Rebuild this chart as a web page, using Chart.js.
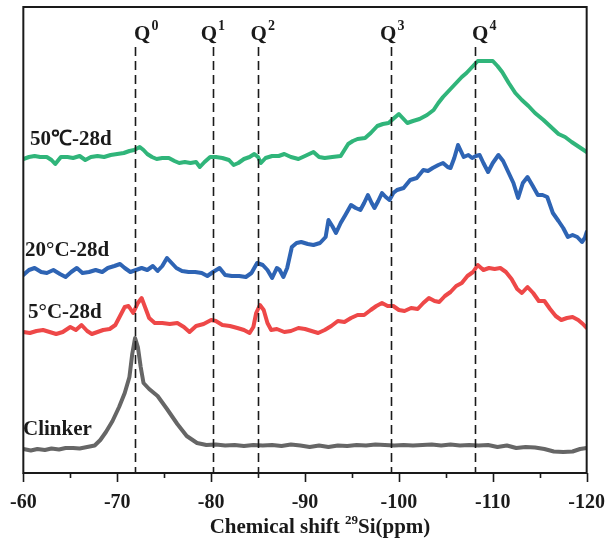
<!DOCTYPE html>
<html>
<head>
<meta charset="utf-8">
<script src="https://cdn.jsdelivr.net/npm/chart.js@4.4.1/dist/chart.umd.min.js"></script>
<style>
  html, body { margin: 0; padding: 0; background: #fff; }
</style>
</head>
<body>
<canvas id="nmr" width="615" height="541"></canvas>
<script>
// 29Si NMR spectra, stacked (values already include the vertical offset of each trace)
const clinkerPpm = [-60,-60.8,-61.5,-62.3,-63,-63.8,-64.5,-65.3,-66,-66.8,-67.6,-68.2,-68.8,-69.5,-70.2,-70.8,-71.3,-71.6,-71.9,-72.2,-72.5,-72.8,-73.4,-74.3,-75.3,-76.4,-77.4,-78.5,-79.5,-80.5,-81.5,-82.5,-83.5,-84.5,-85.5,-86.5,-87.5,-88.5,-89.5,-90.5,-91.5,-92.5,-93.5,-94.5,-95.5,-96.5,-97.5,-98.5,-99.5,-100.5,-101.5,-102.5,-103.5,-104.5,-105.5,-106.5,-107.5,-108.5,-109.5,-110.5,-111.5,-112.5,-113.5,-114.5,-115.5,-116.5,-117.5,-118.5,-119.3,-120];
const clinkerVal = [24,22.5,24,23,24.5,23.5,25,25,24.5,26,27.5,33,41,52,66,80,96,119,135,126,106,90,84,77,64,49,37,30,28,28.5,27.5,28,27,28,27.5,28,27,28.5,27.5,26,27.5,26,27.5,27,28,27.5,28.5,28,27.5,28,27.5,28,28.5,27.5,28.5,27.5,28,27.5,28,26,27.5,25,26,25.5,24,21.5,21,21.5,24,25];

const c5Ppm = [-60,-60.7,-61.4,-62.1,-62.8,-63.5,-64.2,-65,-65.6,-66.2,-66.8,-67.3,-67.9,-68.5,-69.2,-69.8,-70.3,-70.8,-71.2,-71.7,-72.2,-72.6,-73,-73.4,-74,-74.8,-75.6,-76.4,-77.1,-77.7,-78.4,-79.2,-80,-80.5,-81.2,-82,-82.8,-83.5,-84.1,-84.5,-84.8,-85.2,-85.6,-86,-86.4,-87,-87.8,-88.5,-89.3,-90,-90.7,-91.4,-92.1,-92.8,-93.5,-94.2,-94.9,-95.6,-96.3,-97,-97.6,-98.2,-98.8,-99.4,-100,-100.6,-101.3,-102,-102.6,-103.2,-103.8,-104.3,-104.9,-105.5,-106.1,-106.7,-107.3,-107.9,-108.4,-109,-109.6,-110.2,-110.8,-111.4,-112,-112.6,-113.1,-113.7,-114.3,-114.9,-115.5,-116.1,-116.7,-117.3,-117.9,-118.5,-119.1,-119.6,-120];
const c5Val = [141,140,142,143,141,139,141,146,143,148,142,139,141,143,144,148,157,166,167,160,170,175,165,155,150,150,149,150,146,141,147,149,153,152,148,147,145,143,140,146,160,168,163,150,143,144,141,142,145,144,142,140,143,147,152,151,155,158,158,163,167,170,167,167,163,162,165,164,170,175,172,171,177,181,187,190,197,201,208,203,205,204,205,201,194,184,180,186,180,172,172,164,157,153,155,156,153,149,145];

const c20Ppm = [-60,-60.6,-61.2,-61.9,-62.5,-63.2,-63.9,-64.5,-65.1,-65.7,-66.3,-67,-67.7,-68.4,-69,-69.7,-70.3,-70.8,-71.4,-72,-72.6,-73.2,-73.8,-74.3,-74.8,-75.3,-75.8,-76.3,-76.9,-77.6,-78.3,-79,-79.6,-80.2,-80.9,-81.5,-82.2,-83,-83.7,-84.3,-84.9,-85.5,-86,-86.5,-87,-87.3,-87.7,-88.1,-88.6,-89.1,-89.6,-90.3,-90.9,-91.6,-92.2,-92.5,-92.9,-93.3,-93.8,-94.3,-94.9,-95.4,-95.9,-96.3,-96.7,-97.1,-97.4,-97.8,-98.2,-98.6,-99,-99.4,-99.8,-100.5,-101.2,-101.9,-102.6,-103.1,-103.6,-104.2,-104.7,-105.2,-105.5,-105.9,-106.3,-106.6,-106.9,-107.4,-107.8,-108.2,-108.6,-109,-109.5,-110,-110.6,-111.1,-111.7,-112.2,-112.7,-113.2,-113.7,-114.2,-114.8,-115.3,-115.8,-116.4,-117,-117.5,-118,-118.5,-119,-119.5,-119.8,-120];
const c20Val = [198,203,205,201,200,203,199,196,201,205,200,201,203,201,205,207,209,205,201,203,205,203,207,202,207,215,210,205,202,201,201,200,197,201,205,198,197,197,196,200,210,208,203,195,205,203,196,205,226,230,231,229,228,230,236,253,247,240,250,258,268,265,263,270,278,270,265,272,280,276,273,280,283,285,293,295,303,302,305,308,310,306,305,315,328,322,316,318,315,317,318,310,301,310,318,312,300,290,275,290,296,288,278,278,276,260,252,245,236,238,236,231,235,241];

const c50Ppm = [-60,-60.6,-61.2,-61.8,-62.5,-63,-63.4,-64,-64.7,-65.3,-66,-66.6,-67.2,-67.9,-68.6,-69.3,-70,-70.7,-71.3,-71.8,-72.4,-72.8,-73.2,-73.7,-74.2,-74.8,-75.5,-76.1,-76.6,-77.2,-77.8,-78.4,-78.8,-79.3,-79.9,-80.5,-81.2,-81.9,-82.4,-82.9,-83.5,-84.1,-84.6,-85,-85.3,-85.8,-86.5,-87.2,-87.8,-88.5,-89.3,-90,-90.9,-91.5,-92.1,-92.9,-93.8,-94.2,-94.6,-95.1,-95.6,-96.4,-97,-97.7,-98.3,-98.9,-99.5,-100,-100.5,-100.9,-101.5,-102.2,-103,-103.7,-104.2,-104.7,-105.4,-106.1,-106.7,-107.2,-107.8,-108.4,-109.2,-110,-110.5,-111,-111.7,-112.4,-113.1,-113.8,-114.5,-115.4,-116.2,-117,-117.7,-118.4,-119.2,-120];
const c50Val = [314,316,317,316,316,313,309,316,316,315,317,313,316,317,316,318,319,320,322,323,326,323,319,316,314,315,315,312,310,311,310,311,306,311,316,316,315,313,308,310,314,316,319,316,310,315,317,317,319,316,314,317,321,316,315,316,317,323,329,332,334,335,340,347,349,350,355,359,354,350,352,354,358,363,370,376,383,390,396,400,406,412,412,412,407,401,390,380,373,367,360,353,346,339,336,331,326,321];

const seriesNames = ['Clinker', '5°C-28d', '20°C-28d', '50℃-28d'];
const seriesColors = ['#666666', '#ee4848', '#2e64b4', '#30b57a'];

// Q^n reference positions
const qNames = ['0', '1', '2', '3', '4'];
const qShift = [-71.9, -80.2, -85.0, -99.2, -108.1];
const qLabelAt = [-71.8, -78.9, -84.2, -98.0, -107.8];

const xTicks = [-60, -70, -80, -90, -100, -110, -120];

const serif = '"Liberation Serif", "Times New Roman", serif';
const ink = '#1a1a1a';

function pts(xs, ys) {
    return xs.map((v, i) => ({ x: v, y: ys[i] }));
}

const overlay = {
    id: 'overlay',
    afterDatasetsDraw(chart) {
        const { ctx, chartArea: a, scales: { x } } = chart;
        ctx.save();

        // dashed Q lines
        ctx.strokeStyle = ink;
        ctx.lineWidth = 1.6;
        ctx.setLineDash([9, 5]);
        qShift.forEach(v => {
            const px = Math.round(x.getPixelForValue(v)) + 0.5;
            ctx.beginPath();
            ctx.moveTo(px, 47);
            ctx.lineTo(px, a.bottom);
            ctx.stroke();
        });
        ctx.setLineDash([]);

        // Q labels with superscripts
        ctx.fillStyle = ink;
        ctx.textBaseline = 'alphabetic';
        ctx.textAlign = 'left';
        qLabelAt.forEach((v, i) => {
            const px = x.getPixelForValue(v);
            ctx.font = 'bold 21px ' + serif;
            ctx.fillText('Q', px, 40);
            const w = ctx.measureText('Q').width;
            ctx.font = 'bold 14px ' + serif;
            ctx.fillText(qNames[i], px + w + 1, 30);
        });

        // series labels
        ctx.font = 'bold 21px ' + serif;
        const labelPos = [[23, 435], [28, 318], [25, 256], [30, 145]];
        seriesNames.forEach((n, i) => ctx.fillText(n, labelPos[i][0], labelPos[i][1]));

        // frame
        ctx.strokeStyle = ink;
        ctx.lineWidth = 2;
        ctx.strokeRect(a.left, a.top, a.right - a.left, a.bottom - a.top);

        // major and minor ticks, pointing out
        ctx.lineWidth = 1.6;
        for (let v = -60; v >= -120; v -= 5) {
            const px = Math.round(x.getPixelForValue(v)) + 0.5;
            const len = v % 10 === 0 ? 9 : 5;
            ctx.beginPath();
            ctx.moveTo(px, a.bottom);
            ctx.lineTo(px, a.bottom + len);
            ctx.stroke();
        }

        // axis title with superscript mass number
        const parts = [['Chemical shift ', 21, 0], ['29', 13, -9], ['Si(ppm)', 21, 0]];
        let total = 0;
        parts.forEach(p => { ctx.font = 'bold ' + p[1] + 'px ' + serif; total += ctx.measureText(p[0]).width; });
        let tx = 320 - total / 2;
        parts.forEach(p => {
            ctx.font = 'bold ' + p[1] + 'px ' + serif;
            ctx.fillText(p[0], tx, 533 + p[2]);
            tx += ctx.measureText(p[0]).width;
        });
        ctx.restore();
    }
};

new Chart(document.getElementById('nmr'), {
    type: 'line',
    data: {
        datasets: [
            { label: seriesNames[0], data: pts(clinkerPpm, clinkerVal), borderColor: seriesColors[0] },
            { label: seriesNames[1], data: pts(c5Ppm, c5Val), borderColor: seriesColors[1] },
            { label: seriesNames[2], data: pts(c20Ppm, c20Val), borderColor: seriesColors[2] },
            { label: seriesNames[3], data: pts(c50Ppm, c50Val), borderColor: seriesColors[3] }
        ]
    },
    options: {
        responsive: false,
        animation: false,
        layout: { padding: { left: 21, right: 23, top: 7, bottom: 0 } },
        elements: {
            point: { radius: 0 },
            line: { borderWidth: 4, tension: 0, borderJoinStyle: 'round', borderCapStyle: 'round' }
        },
        plugins: { legend: { display: false }, tooltip: { enabled: false } },
        scales: {
            x: {
                type: 'linear',
                min: -120,
                max: -60,
                reverse: true,
                afterBuildTicks: s => { s.ticks = xTicks.map(v => ({ value: v })); },
                ticks: { color: ink, font: { family: serif, size: 20, weight: 'bold' }, padding: 10, maxRotation: 0 },
                grid: { display: false, drawTicks: true, tickLength: 8 },
                border: { display: false },
                afterFit: s => { s.height = 68; }
            },
            y: { display: false, min: 0, max: 466 }
        }
    },
    plugins: [overlay]
});
</script>
</body>
</html>
